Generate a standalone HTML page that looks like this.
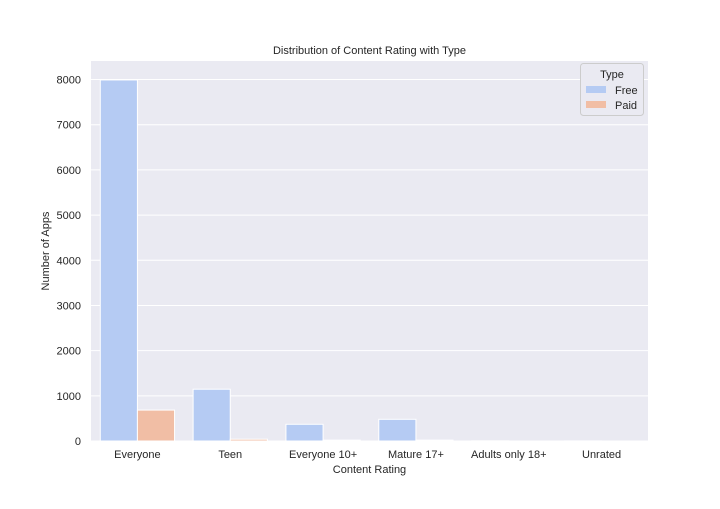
<!DOCTYPE html>
<html><head><meta charset="utf-8"><style>
body{margin:0;background:#fff;font-family:"Liberation Sans","DejaVu Sans",sans-serif;}
svg text{font-family:"Liberation Sans","DejaVu Sans",sans-serif;fill:#262626;}
</style></head><body>
<svg id="c" width="720" height="504"></svg>
<script>
const categories=["Everyone","Teen","Everyone 10+","Mature 17+","Adults only 18+","Unrated"];
const freeValues=[7990,1146,370,480,3,2];
const paidValues=[684,40,20,20,0,0];
const yTicks=[0,1000,2000,3000,4000,5000,6000,7000,8000];
const seriesNames=["Free","Paid"];
const colors=["#b5cbf3","#f1bea5"];
const NS="http://www.w3.org/2000/svg";
const svg=document.getElementById('c');
const L=91,R=648,T=61,B=441;
const y=v=>B-v*(B-79.5)/8000;
const band=(R-L)/categories.length;
const x=i=>L+band*i+band/2;
function mk(t,a,txt){const e=document.createElementNS(NS,t);for(const k in a)e.setAttribute(k,a[k]);if(txt!==undefined)e.textContent=txt;svg.appendChild(e);return e;}
let e=mk('rect',{x:L,y:T,width:R-L,height:B-T,fill:'#eaeaf2'});

yTicks.forEach(t=>{
 let g=mk('line',{x1:L,x2:R,y1:y(t),y2:y(t),stroke:'#fff','stroke-width':1});
 
 let l=mk('text',{x:L-10,y:y(t)+4,'text-anchor':'end','font-size':11},t);
 
});
const bw=band*0.4;
[freeValues,paidValues].forEach((vals,s)=>{
 vals.forEach((v,i)=>{
  const bx=x(i)-bw+s*bw;
  let r=mk('rect',{x:bx,y:y(v),width:bw,height:B-y(v),fill:colors[s],stroke:'#fff','stroke-width':1});
  
 });
});
categories.forEach((c,i)=>{
 let l=mk('text',{x:x(i),y:458,'text-anchor':'middle','font-size':11},c);
 
});
e=mk('text',{x:(L+R)/2,y:473,'text-anchor':'middle','font-size':11},'Content Rating');

e=mk('text',{x:49,y:(T+B)/2,'text-anchor':'middle','font-size':11,transform:'rotate(-90 49 '+((T+B)/2)+')'},'Number of Apps');

e=mk('text',{x:(L+R)/2,y:54,'text-anchor':'middle','font-size':11},'Distribution of Content Rating with Type');

e=mk('rect',{x:580.5,y:63.5,width:63,height:52,fill:'#eaeaf2',stroke:'#ccc','stroke-width':1,rx:3});

e=mk('text',{x:612,y:78,'text-anchor':'middle','font-size':11},'Type');

seriesNames.forEach((n,s)=>{
 let r=mk('rect',{x:586,y:86+s*15,width:20,height:7,fill:colors[s]});
 
 let t=mk('text',{x:615,y:94+s*15,'font-size':11},n);
 
});
</script>
</body></html>
